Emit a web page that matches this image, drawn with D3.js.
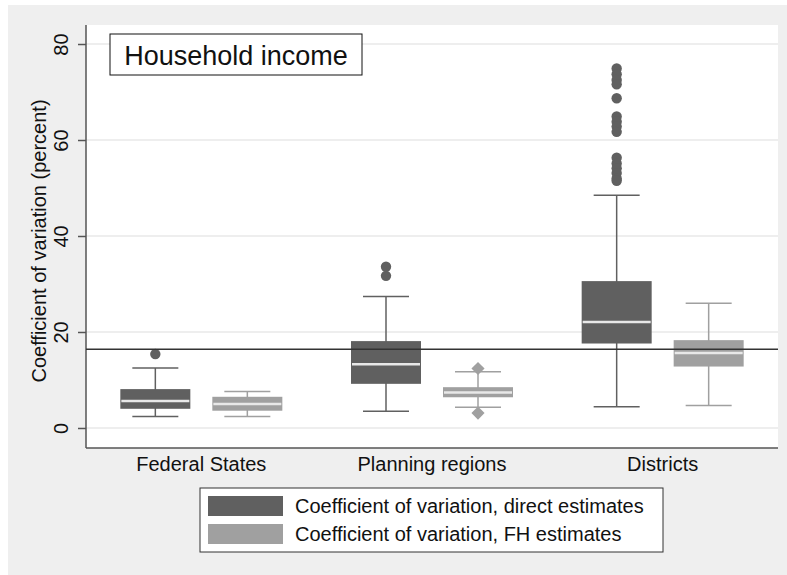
<!DOCTYPE html>
<html>
<head>
    <meta charset="utf-8">
    <title>Household income</title>
    <style>
        body { margin: 0; background: #fff; }
        svg { display: block; font-family: "Liberation Sans", Arial, sans-serif; }
        .grid { stroke: #e8e8e8; stroke-width: 1.5px; }
        .axis-line { stroke: #555; stroke-width: 1.5px; }
        .tick-label, .cat-label, .legend-text { font-size: 20px; fill: #111; }
    </style>
</head>
<body>
<svg id="chart" width="787" height="575"></svg>
<script src="https://d3js.org/d3.v7.min.js"></script>
<script>
    // categories and series
    const groups = ["Federal States", "Planning regions", "Districts"];
    const series = ["Coefficient of variation, direct estimates", "Coefficient of variation, FH estimates"];
    const seriesColor = ["#606060", "#a0a0a0"];
    const yTicks = [0, 20, 40, 60, 80];

    // box statistics per group
    const directLow  = [2.4, 3.5, 4.4];
    const directQ1   = [4.0, 9.2, 17.6];
    const directMed  = [5.6, 13.3, 22.1];
    const directQ3   = [8.1, 18.1, 30.6];
    const directHigh = [12.5, 27.4, 48.5];
    const directOut  = [
        [15.4],
        [33.6, 31.7],
        [74.9, 73.7, 72.5, 71.6, 68.7, 64.9, 63.8, 62.8, 61.7, 56.3, 55.1, 54.1, 53.1, 52.0, 51.5]
    ];

    const fhLow  = [2.4, 4.3, 4.7];
    const fhQ1   = [3.6, 6.4, 12.8];
    const fhMed  = [5.0, 7.4, 15.6];
    const fhQ3   = [6.5, 8.5, 18.3];
    const fhHigh = [7.6, 11.7, 26.0];
    const fhOut  = [[], [12.4, 3.1], []];

    const refValue = 16.4;

    const svg = d3.select("#chart");

    // outer graph region
    svg.append("rect").attr("x", 8).attr("y", 5).attr("width", 779).attr("height", 570).attr("fill", "#efefef");

    const plot = { left: 86, right: 778, top: 25, bottom: 448 };
    svg.append("rect")
        .attr("x", plot.left).attr("y", plot.top)
        .attr("width", plot.right - plot.left).attr("height", plot.bottom - plot.top)
        .attr("fill", "#fff");

    const y = d3.scaleLinear().domain([-4.17, 83.96]).range([plot.bottom, plot.top]);
    const x = d3.scaleBand().domain(groups).range([plot.left, plot.right]).padding(0);
    const xs = d3.scalePoint().domain(series).range([-46, 46]);
    const boxW = 70, capW = 46;

    // gridlines
    svg.append("g").selectAll("line").data(yTicks).join("line")
        .attr("class", "grid")
        .attr("x1", plot.left).attr("x2", plot.right)
        .attr("y1", d => y(d)).attr("y2", d => y(d));

    // y axis
    const yAxis = d3.axisLeft(y).tickValues(yTicks).tickSize(8).tickPadding(0);
    const ya = svg.append("g").attr("transform", `translate(${plot.left},0)`).call(yAxis);
    ya.select(".domain").remove();
    ya.selectAll(".tick line").attr("stroke", "#555").attr("stroke-width", 1.5);
    ya.selectAll(".tick text")
        .attr("class", "tick-label")
        .attr("font-family", null).attr("font-size", null)
        .attr("transform", "rotate(-90)")
        .attr("x", 0).attr("y", -18).attr("dy", 0)
        .attr("text-anchor", "middle");

    svg.append("line").attr("class", "axis-line")
        .attr("x1", plot.left).attr("x2", plot.left).attr("y1", plot.top).attr("y2", plot.bottom);
    svg.append("line").attr("class", "axis-line")
        .attr("x1", plot.left).attr("x2", plot.right).attr("y1", plot.bottom).attr("y2", plot.bottom);

    svg.append("text")
        .attr("transform", "translate(46,241) rotate(-90)")
        .attr("text-anchor", "middle")
        .attr("font-size", 20).attr("fill", "#111")
        .text("Coefficient of variation (percent)");

    // category labels
    svg.append("g").selectAll("text").data(groups).join("text")
        .attr("class", "cat-label")
        .attr("x", d => x(d) + x.bandwidth() / 2).attr("y", 471)
        .attr("text-anchor", "middle")
        .text(d => d);

    // build box data
    const boxes = [];
    groups.forEach((g, i) => {
        boxes.push({ g, s: series[0], color: seriesColor[0], low: directLow[i], q1: directQ1[i], med: directMed[i], q3: directQ3[i], high: directHigh[i], out: directOut[i], marker: "circle" });
        boxes.push({ g, s: series[1], color: seriesColor[1], low: fhLow[i], q1: fhQ1[i], med: fhMed[i], q3: fhQ3[i], high: fhHigh[i], out: fhOut[i], marker: "diamond" });
    });

    const bg = svg.append("g").selectAll("g").data(boxes).join("g")
        .attr("transform", d => `translate(${x(d.g) + x.bandwidth() / 2 + xs(d.s)},0)`);

    // whiskers
    bg.append("line").attr("x1", 0).attr("x2", 0)
        .attr("y1", d => y(d.high)).attr("y2", d => y(d.low))
        .attr("stroke", d => d.color).attr("stroke-width", 1.5);
    bg.append("line").attr("x1", -capW / 2).attr("x2", capW / 2)
        .attr("y1", d => y(d.high)).attr("y2", d => y(d.high))
        .attr("stroke", d => d.color).attr("stroke-width", 1.5);
    bg.append("line").attr("x1", -capW / 2).attr("x2", capW / 2)
        .attr("y1", d => y(d.low)).attr("y2", d => y(d.low))
        .attr("stroke", d => d.color).attr("stroke-width", 1.5);

    // boxes
    bg.append("rect")
        .attr("x", -boxW / 2).attr("width", boxW)
        .attr("y", d => y(d.q3)).attr("height", d => y(d.q1) - y(d.q3))
        .attr("fill", d => d.color);
    bg.append("line").attr("x1", -boxW / 2 + 1).attr("x2", boxW / 2 - 1)
        .attr("y1", d => y(d.med)).attr("y2", d => y(d.med))
        .attr("stroke", "#e8e8e8").attr("stroke-width", 2.5);

    // outliers
    const circleSym = d3.symbol().type(d3.symbolCircle).size(85);
    const diamondSym = d3.symbol().type(d3.symbolDiamond2).size(110);
    bg.each(function (d) {
        d3.select(this).selectAll("path.out").data(d.out).join("path")
            .attr("class", "out")
            .attr("transform", v => `translate(0,${y(v)})`)
            .attr("d", d.marker === "circle" ? circleSym() : diamondSym())
            .attr("fill", d.color);
    });

    // reference line
    svg.append("line")
        .attr("x1", plot.left).attr("x2", plot.right)
        .attr("y1", y(refValue)).attr("y2", y(refValue))
        .attr("stroke", "#333").attr("stroke-width", 1.5);

    // title box
    svg.append("rect").attr("x", 110).attr("y", 34).attr("width", 252).attr("height", 41)
        .attr("fill", "#fff").attr("stroke", "#111").attr("stroke-width", 1);
    svg.append("text").attr("x", 236).attr("y", 64.5).attr("text-anchor", "middle")
        .attr("font-size", 27).attr("fill", "#111").text("Household income");

    // legend
    const lg = svg.append("g");
    lg.append("rect").attr("x", 200).attr("y", 488).attr("width", 463).attr("height", 64)
        .attr("fill", "#fff").attr("stroke", "#333").attr("stroke-width", 1);
    const li = lg.selectAll("g").data(series).join("g")
        .attr("transform", (d, i) => `translate(208,${496 + i * 28})`);
    li.append("rect").attr("width", 75).attr("height", 20).attr("fill", (d, i) => seriesColor[i]);
    li.append("text").attr("class", "legend-text").attr("x", 87).attr("y", 17).text(d => d);
</script>
</body>
</html>
